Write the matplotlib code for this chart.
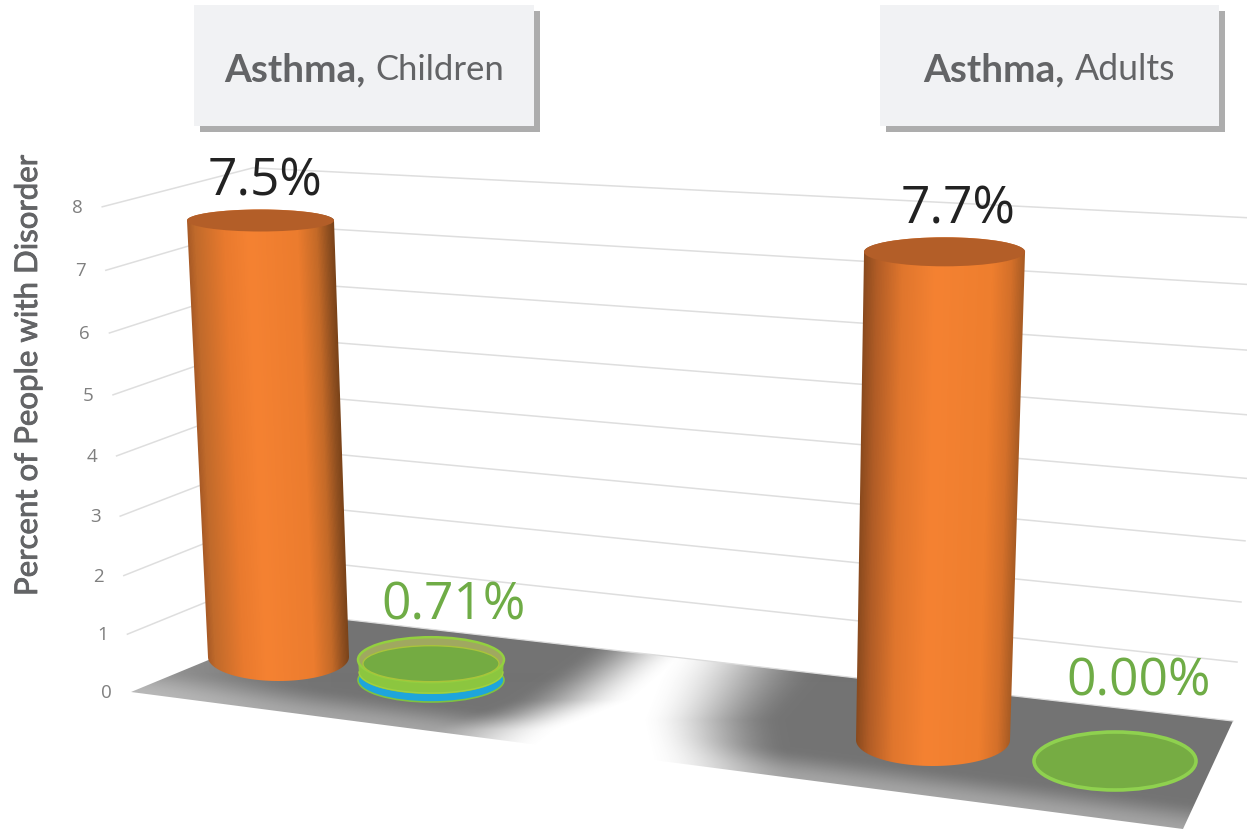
import numpy as np
import matplotlib
matplotlib.use("Agg")
import matplotlib.pyplot as plt
from matplotlib.patches import Polygon, Ellipse, Rectangle
from matplotlib.colors import LinearSegmentedColormap, to_rgb
import matplotlib.patheffects as pe

# ---- data ----
panels = ["Children", "Adults"]
disease = "Asthma,"
orange_values = [7.5, 7.7]
orange_labels = ["7.5%", "7.7%"]
green_labels = ["0.71%", "0.00%"]
green_drawn_heights = [0.35, 0.0]
y_ticks = [0, 1, 2, 3, 4, 5, 6, 7, 8]
y_title = "Percent of People with Disorder"

# ---- fonts ----
NARROW = "Lato"
LABEL = "Open Sans"
TXT = "#636466"

W, H = 1247, 830
fig = plt.figure(figsize=(W / 100, H / 100), dpi=100, facecolor="white")
ax = fig.add_axes([0, 0, 1, 1])
ax.axis("off")


# ---- projection of the 3D chart frame (slightly non-linear for perspective) ----
def left_end(v):
    return 131 - 3.6 * v, 692 - 57.4 * v - 0.406 * v * v


def corner(v):
    return 315 - 7.75 * v, 616 - 54.9 * v - 0.14 * v * v


def right_end(v):
    return 1233 + 4.0 * v, 721 - 58.4 * v - 0.55 * v * v


# ---- floor with blurred shadows ----
floor = [left_end(0), corner(0), right_end(0), (1183, 829)]
yy, xx = np.mgrid[0:H, 0:W] + 0.5


def smooth(t):
    t = np.clip(t, 0, 1)
    return t * t * (3 - 2 * t)


ys = [620, 650, 665, 700, 730, 770]
l_dark = np.interp(yy, ys, [600, 580, 560, 505, 425, 380])
l_white = np.interp(yy, ys, [720, 695, 675, 635, 560, 510])
r_white = np.interp(yy, [620, 680, 720, 770], [690, 655, 640, 650])
r_dark = np.interp(yy, [620, 680, 720, 770], [860, 820, 785, 795])
a_left = 1 - smooth((xx - l_dark) / (l_white - l_dark))
a_right = smooth((xx - r_white) / (r_dark - r_white))
alpha = np.maximum(a_left, a_right)
fx0, fy0 = left_end(0)
front_dist = (fy0 + (xx - fx0) * (829 - fy0) / (1183 - fx0)) - yy
tip = smooth((xx - fx0) / 200)
alpha = alpha * (0.66 + 0.34 * smooth(front_dist / 30)) * (0.78 + 0.22 * tip)
rgba = np.zeros((H, W, 4))
rgba[..., :3] = to_rgb("#737373")
rgba[..., 3] = alpha
floor_patch = Polygon(floor, closed=True, fc="none", ec="none")
ax.add_patch(floor_patch)
im = ax.imshow(rgba, extent=(0, W, H, 0), aspect="auto", zorder=1, interpolation="bilinear")
im.set_clip_path(floor_patch)

# ---- gridlines and tick labels ----
for v in y_ticks:
    lx, ly = left_end(v)
    cx, cy = corner(v)
    rx, ry = right_end(v)
    ax.text(lx - 25, ly + 1, str(v), ha="center", va="center", color="#7f7f7f",
            fontsize=13.5, family=LABEL, zorder=3)
    if v == 0:
        ax.plot([cx, rx], [cy, ry], color="#dcdcdc", lw=0.9, zorder=2)
    else:
        ax.plot([lx, cx, rx], [ly, cy, ry], color="#dedede", lw=1.1, zorder=2, solid_joinstyle="miter")

# ---- cylinder geometry per category: base centre, rise and lean per unit, radii ----
base = [(278.5, 657), (933, 740)]
rise = [58.2, 63.4]
lean = [-2.4, 1.5]
rx_base = [70.5, 77]
rx_top = [73.5, 80.5]
ry_base = [24, 26]
ry_top = [11, 14.5]
cyl_cmaps = [
    LinearSegmentedColormap.from_list("cyl0", [
        (0.0, "#a85a26"), (0.05, "#c06a2b"), (0.25, "#e97a2e"), (0.42, "#f58232"),
        (0.75, "#ec7c2e"), (0.88, "#c46a28"), (0.96, "#8f4f20"), (1.0, "#7a4319")]),
    LinearSegmentedColormap.from_list("cyl1", [
        (0.0, "#8a4a1e"), (0.08, "#b05c26"), (0.24, "#e0762d"), (0.45, "#f58232"),
        (0.8, "#ee7e2e"), (0.92, "#d4702a"), (1.0, "#a85c24")]),
]


def half_ellipse(cx, cy, rx, ry, start, stop, n=80):
    t = np.linspace(start, stop, n)
    return np.column_stack([cx + rx * np.cos(t), cy + ry * np.sin(t)])


for i, val in enumerate(orange_values):
    bx, by = base[i]
    tx, ty = bx + lean[i] * val, by - rise[i] * val
    outline = np.vstack([half_ellipse(bx, by, rx_base[i], ry_base[i], 0, np.pi),
                         half_ellipse(tx, ty, rx_top[i], ry_top[i], np.pi, 2 * np.pi)])
    clip = Polygon(outline, closed=True, fc="none", ec="none")
    ax.add_patch(clip)
    y0, y1 = int(ty - ry_top[i] - 2), int(by + ry_base[i] + 2)
    x0, x1 = int(min(tx - rx_top[i], bx - rx_base[i]) - 2), int(max(tx + rx_top[i], bx + rx_base[i]) + 2)
    gy, gx = np.mgrid[y0:y1, x0:x1] + 0.5
    f = (by - gy) / (by - ty)
    xl = bx - rx_base[i] + f * (tx - rx_top[i] - bx + rx_base[i])
    xr = bx + rx_base[i] + f * (tx + rx_top[i] - bx - rx_base[i])
    u = np.clip((gx - xl) / (xr - xl), 0, 1)
    cyl = ax.imshow(cyl_cmaps[i](u), extent=(x0, x1, y1, y0), aspect="auto", zorder=4)
    cyl.set_clip_path(clip)
    ax.add_patch(Ellipse((tx, ty), 2 * rx_top[i], 2 * ry_top[i], fc="#b35e28", ec="none", zorder=5))
    ax.text(tx + [5, 13.5][i], ty + [-38, -42][i], orange_labels[i], ha="center", va="center",
            color="#222222", fontsize=37, family=LABEL, zorder=6)

# ---- small green cylinders ----
disc_base = [(431, 680), (1115, 761)]
disc_rx = [73, 81]
disc_ry = [22, 29]
disc_rise = [58, 63]
for i, h in enumerate(green_drawn_heights):
    dx, dy = disc_base[i]
    rx, ry = disc_rx[i], disc_ry[i]
    top = dy - h * disc_rise[i]
    if h > 0:
        blue_top = dy - 0.12 * disc_rise[i]
        ax.add_patch(Ellipse((dx, dy), 2 * rx, 2 * ry, fc="#1ea5dc", ec="#7fc241", lw=1.2, zorder=5))
        band = np.vstack([half_ellipse(dx, blue_top, rx - 1, ry - 1, 0, np.pi),
                          half_ellipse(dx, top, rx, ry, np.pi, 2 * np.pi)])
        ax.add_patch(Polygon(band, closed=True, fc="#8cc63f", ec="none", zorder=6))
        ax.add_patch(Ellipse((dx, top), 2 * rx, 2 * ry + 1, fc="#a0a860", ec="#93d03f", lw=1.8, zorder=7))
        ax.add_patch(Ellipse((dx, top + 4), 2 * (rx - 5), 2 * (ry - 4), fc="#74ab42", ec="#a9c43a", lw=1.0, zorder=8))
        arc = half_ellipse(dx, blue_top - 1, rx - 1, ry - 1, 0, np.pi)
        ax.plot(arc[:, 0], arc[:, 1], color="#a0d040", lw=1.0, zorder=8)
    else:
        ax.add_patch(Ellipse((dx, top), 2 * rx, 2 * ry, fc="#76ac43", ec="#8fd14f", lw=2.6, zorder=5))
    lab_xy = [(454, 606), (1139, 682)][i]
    ax.text(lab_xy[0], lab_xy[1], green_labels[i], ha="center", va="center",
            color="#6fac46", fontsize=37, family=LABEL, zorder=9)

ax.set_xlim(0, W)
ax.set_ylim(H, 0)


def fit_width(txt, target_px):
    fig.canvas.draw()
    e = txt.get_window_extent()
    txt.set_fontsize(txt.get_fontsize() * target_px / max(e.width, e.height))


# ---- panel boxes ----
boxes = [(194, 5, 340, 121), (880, 5, 339, 121)]
title_xs = [224, 923]
name_xs = [375, 1075]
name_ws = [129, 101]
for (bx, by, bw, bh), name, tx, nx, nw in zip(boxes, panels, title_xs, name_xs, name_ws):
    ax.add_patch(Rectangle((bx + 6, by + 6), bw, bh, fc="#adadad", ec="none", zorder=10))
    ax.add_patch(Rectangle((bx, by), bw, bh, fc="#f1f2f4", ec="none", zorder=11))
    t1 = ax.text(tx, 70, disease, ha="left", va="center", color=TXT, fontsize=28,
                 family=NARROW, weight="bold", zorder=12)
    fit_width(t1, 141)
    t2 = ax.text(nx, 70, name, ha="left", va="center", color=TXT, fontsize=28,
                 family=NARROW, zorder=12)
    fit_width(t2, nw)

# ---- axis title ----
yt = ax.text(28, 375, y_title, rotation=90, ha="center", va="center", color=TXT, fontsize=22,
             family=NARROW, zorder=12,
             path_effects=[pe.withStroke(linewidth=0.6, foreground=TXT)])
fit_width(yt, 440)

fig.savefig("out.png", dpi=100, facecolor="white")
